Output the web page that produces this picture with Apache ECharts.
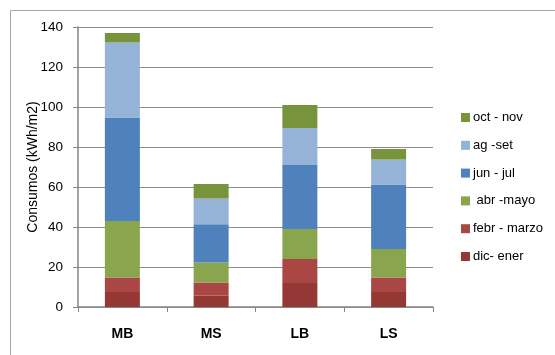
<!DOCTYPE html>
<html>
<head>
<meta charset="utf-8">
<script src="https://cdn.jsdelivr.net/npm/echarts@6/dist/echarts.min.js"></script>
<style>
  html, body {margin: 0; padding: 0; background: #fff;}
  #chart {width: 555px; height: 355px;}
</style>
</head>
<body>
<div id="chart"></div>
<script>
const categories = ["MB", "MS", "LB", "LS"];
const dicEner = [7.5, 5.7, 12, 7.5];
const febrMarzo = [7.3, 6.6, 12, 7.3];
const abrMayo = [28.2, 9.9, 15, 14.2];
const junJul = [51.8, 19.2, 32, 32.3];
const agSet = [37.5, 12.8, 18.5, 12.4];
const octNov = [4.7, 7.3, 11.5, 5.3];
const yTicks = {min: 0, max: 140, interval: 20};

const font = "Liberation Sans, Arial, sans-serif";

const makeSeries = (name, data, color) => ({
    name: name,
    type: "bar",
    stack: "total",
    barWidth: 35,
    data: data,
    itemStyle: {color: color},
    emphasis: {disabled: true}
});

const myChart = echarts.init(document.getElementById("chart"));
myChart.setOption({
    animation: false,
    textStyle: {fontFamily: font},
    graphic: [{
        type: "rect",
        shape: {x: 10.5, y: 10.5, width: 600, height: 400},
        style: {fill: "none", stroke: "#a6a6a6", lineWidth: 1},
        silent: true
    }],
    grid: {left: 78, right: 122, top: 27, bottom: 48},
    legend: {
        orient: "vertical",
        left: 456,
        top: 106,
        itemWidth: 9,
        itemHeight: 9,
        itemGap: 14.8,
        icon: "rect",
        data: ["oct - nov", "ag -set", "jun - jul", " abr -mayo", "febr - marzo", "dic- ener"],
        textStyle: {fontSize: 13, color: "#000", fontFamily: font, padding: [0, 0, 0, -2]}
    },
    xAxis: {
        type: "category",
        data: categories,
        axisLine: {lineStyle: {color: "#868686", width: 1.5}},
        axisTick: {show: true, length: 5, lineStyle: {color: "#868686"}},
        axisLabel: {fontSize: 14, fontWeight: "bold", color: "#000", margin: 20, fontFamily: font}
    },
    yAxis: {
        type: "value",
        min: yTicks.min,
        max: yTicks.max,
        interval: yTicks.interval,
        name: "Consumos (kWh/m2)",
        nameLocation: "middle",
        nameGap: 38,
        nameMoveOverlap: false,
        nameTextStyle: {fontSize: 14, color: "#000", fontFamily: font},
        axisLine: {show: true, lineStyle: {color: "#868686", width: 1.5}},
        axisTick: {show: true, length: 5, lineStyle: {color: "#868686"}},
        axisLabel: {fontSize: 13.5, color: "#000", margin: 15, fontFamily: font},
        splitLine: {lineStyle: {color: "#8c8c8c", width: 1}}
    },
    series: [
        makeSeries("dic- ener", dicEner, "#953735"),
        makeSeries("febr - marzo", febrMarzo, "#AA4643"),
        makeSeries(" abr -mayo", abrMayo, "#89A54E"),
        makeSeries("jun - jul", junJul, "#4F81BD"),
        makeSeries("ag -set", agSet, "#95B3D7"),
        makeSeries("oct - nov", octNov, "#77933C")
    ]
});
</script>
</body>
</html>
